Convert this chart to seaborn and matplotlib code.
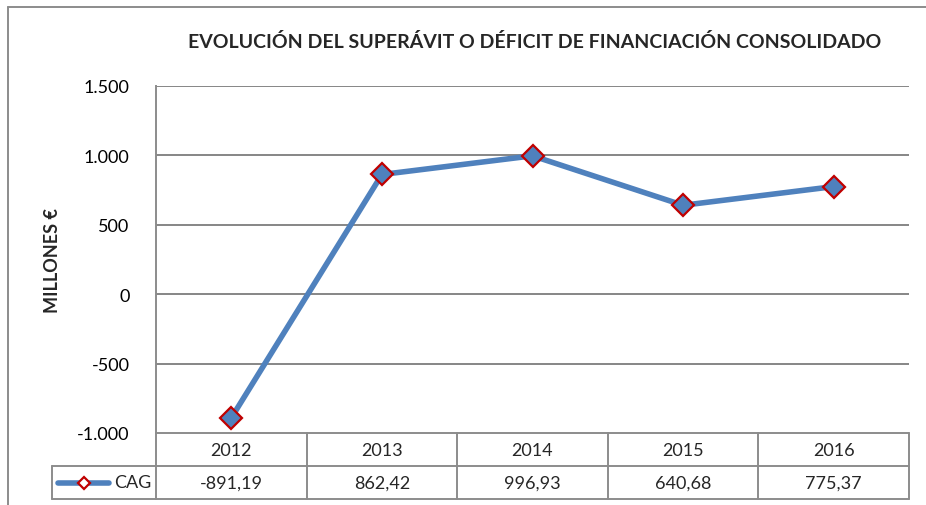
import matplotlib
matplotlib.use("Agg")
import matplotlib.pyplot as plt
import matplotlib.transforms as mtransforms
from matplotlib.lines import Line2D
from matplotlib.ticker import FuncFormatter
import pandas as pd
import seaborn as sns

YEARS = ["2012", "2013", "2014", "2015", "2016"]
CAG = [-891.19, 862.42, 996.93, 640.68, 775.37]
SERIES_NAME = "CAG"
TITLE = "EVOLUCIÓN DEL SUPERÁVIT O DÉFICIT DE FINANCIACIÓN CONSOLIDADO"
Y_LABEL = "MILLONES €"
Y_TICKS = [-1000, -500, 0, 500, 1000, 1500]

LINE_COLOR = "#4F81BD"
EDGE_COLOR = "#C00000"
GRID_COLOR = "#868686"
BORDER_COLOR = "#8C8C8C"

sns.set_style("white")
plt.rcParams["font.family"] = ["Lato", "DejaVu Sans"]

W, H = 926, 506
fig = plt.figure(figsize=(W / 100, H / 100), dpi=100)

# plot area in pixels
left, right, top, bottom = 156, 909, 87, 434
ax = fig.add_axes([left / W, 1 - bottom / H, (right - left) / W, (bottom - top) / H])

df = pd.DataFrame({"year": range(len(YEARS)), "value": CAG})
sns.lineplot(data=df, x="year", y="value", ax=ax, color=LINE_COLOR, lw=4,
             marker="D", markersize=11, markerfacecolor=LINE_COLOR,
             markeredgecolor=EDGE_COLOR, markeredgewidth=1.6)

ax.set_xlim(-0.5, len(YEARS) - 0.5)
ax.set_ylim(Y_TICKS[0], Y_TICKS[-1])
ax.set_yticks(Y_TICKS)
ax.yaxis.set_major_formatter(FuncFormatter(lambda v, p: f"{v:,.0f}".replace(",", ".")))
ax.tick_params(axis="y", length=0, pad=19, labelsize=13, labelcolor="black")
ax.set_xticks([])
ax.set_xlabel("")
ax.set_ylabel("")
for t in Y_TICKS[1:]:
    ax.axhline(t, color=GRID_COLOR, lw=1.4, zorder=0)
for s in ["top", "right", "bottom"]:
    ax.spines[s].set_visible(False)
ax.spines["left"].set_color(BORDER_COLOR)
ax.spines["left"].set_linewidth(1.4)

# data table under the axes
trans = mtransforms.blended_transform_factory(ax.transData, ax.transAxes)
row_h = 33 / (bottom - top)
ncol = len(YEARS)
legend_left = -0.5 - (left - 52) / ((right - left) / ncol)
kw = dict(transform=trans, color=BORDER_COLOR, lw=1.4, clip_on=False)
ax.add_line(Line2D([-0.5, ncol - 0.5], [0, 0], **kw))
ax.add_line(Line2D([legend_left, ncol - 0.5], [-row_h, -row_h], **kw))
ax.add_line(Line2D([legend_left, ncol - 0.5], [-2 * row_h, -2 * row_h], **kw))
ax.add_line(Line2D([legend_left, legend_left], [-row_h, -2 * row_h], **kw))
for i in range(ncol + 1):
    ax.add_line(Line2D([i - 0.5, i - 0.5], [0, -2 * row_h], **kw))
for i, (yr, v) in enumerate(zip(YEARS, CAG)):
    ax.text(i, -row_h / 2, yr, transform=trans, ha="center", va="center", fontsize=13)
    ax.text(i, -1.5 * row_h, f"{v:.2f}".replace(".", ","), transform=trans,
            ha="center", va="center", fontsize=13)

# legend key inside the table
key_y = -1.5 * row_h
x0 = legend_left + 0.04
ax.add_line(Line2D([x0, x0 + 0.34], [key_y, key_y], transform=trans, color=LINE_COLOR,
                   lw=4, solid_capstyle="round", clip_on=False))
ax.add_line(Line2D([x0 + 0.17], [key_y], transform=trans, marker="D", markersize=6,
                   markerfacecolor="white", markeredgecolor=EDGE_COLOR,
                   markeredgewidth=1.6, clip_on=False))
ax.text(x0 + 0.37, key_y, SERIES_NAME, transform=trans, ha="left", va="center", fontsize=13)

# titles
fig.text(535 / W, 1 - 42 / H, TITLE, ha="center", va="center", fontsize=14, fontweight="bold")
fig.text(52 / W, 1 - ((top + bottom) / 2) / H, Y_LABEL, ha="center", va="center",
         rotation=90, fontsize=13, fontweight="bold")

# outer chart frame (cropped on right and bottom)
fig.add_artist(Line2D([8 / W, 8 / W], [0, 1 - 8 / H], color=BORDER_COLOR, lw=1.4))
fig.add_artist(Line2D([8 / W, 1], [1 - 8 / H, 1 - 8 / H], color=BORDER_COLOR, lw=1.4))

fig.savefig("out.png", dpi=100)
